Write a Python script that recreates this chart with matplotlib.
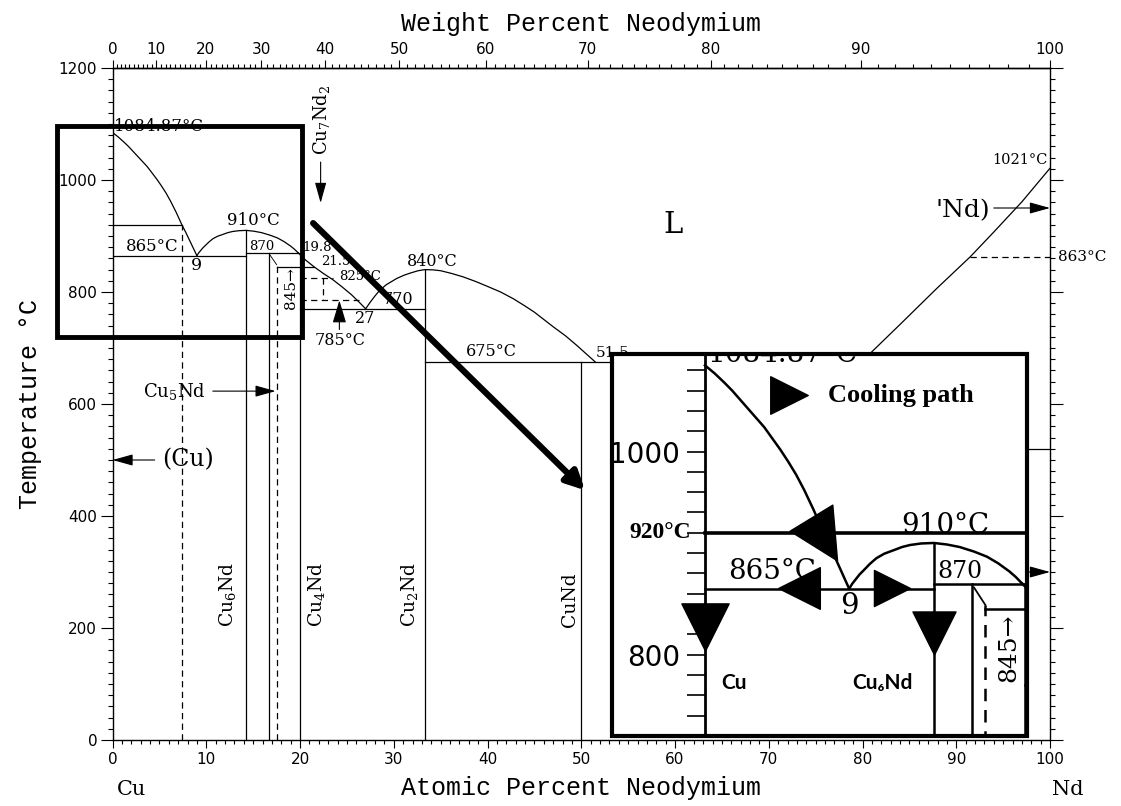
import numpy as np
import matplotlib
matplotlib.use("Agg")
import matplotlib.pyplot as plt
from matplotlib.ticker import MultipleLocator
from matplotlib.patches import Rectangle
from matplotlib.path import Path
from matplotlib.markers import MarkerStyle
from matplotlib.transforms import Affine2D

plt.rcParams['font.family'] = 'DejaVu Serif'
plt.rcParams['mathtext.fontset'] = 'dejavuserif'

M_CU, M_ND = 63.546, 144.24

# liquidus branches (at.% Nd, deg C)
liq_cu_x = [0, 0.6, 1.2, 1.7, 2.2, 2.7, 3.2, 3.7, 4.2, 4.7, 5.2, 5.7, 6.2, 6.8, 7.4, 7.8, 8.2, 8.6, 9]
liq_cu_t = [1084.87, 1077, 1068, 1060, 1051, 1042, 1033, 1024, 1013, 1002, 990, 977, 962, 942,
            920, 907, 893, 879, 865]
liq_cu6_x = [9, 9.2, 9.4, 9.65, 9.9, 10.3, 10.7, 11.2, 11.8, 12.3, 12.8, 13.5, 14.29,
             15.1, 15.9, 16.8, 17.6, 18.3, 19.0, 19.4, 19.8]
liq_cu6_t = [865, 870, 874, 879, 883, 889.5, 895, 899.5, 903, 906, 908, 909.5, 910,
             908.5, 906, 901.5, 896.5, 890, 882, 876.5, 870]
liq_cu4_x = [19.8, 20.6, 21.5, 22.5, 23.5, 24.5, 25.5, 26.3, 27]
liq_cu4_t = [870, 857, 845, 833, 822, 809, 795, 782, 770]
liq_cu2_x = [27, 27.5, 28, 28.5, 29.2, 30.3, 31.1, 31.8, 32.6, 33.33, 34.2, 35, 36.2, 37.4,
             38.7, 40, 41.4, 42.75, 44, 45, 46, 47, 48.3, 49.5, 50.5, 51.5]
liq_cu2_t = [770, 782, 793, 803, 813, 824, 830, 834, 838, 840, 839.5, 838, 833, 827,
             819, 810, 800, 788, 775, 764, 751, 738, 722, 705, 690, 675]
liq_nd_x = [80, 84, 87.9, 91.5, 94, 97, 100]
liq_nd_t = [677, 742, 806, 863, 907, 961, 1021]

# compounds (line compositions and upper temperature)
comp_x = [14.29, 16.67, 20.0, 33.33, 50.0]
comp_top = [910, 870, 870, 840, 675]
comp_names = ["Cu$_6$Nd", None, "Cu$_4$Nd", "Cu$_2$Nd", "CuNd"]

# invariant horizontals
iso_t = [865, 870, 845, 770, 675, 520]
iso_x0 = [0, 14.29, 17.5, 20, 33.33, 70]
iso_x1 = [14.29, 20, 21.5, 33.33, 60, 100]

# dashed (uncertain) boundaries
cu_solvus_x = 7.4
cooling_t = 920
dash_x = 17.5
dash_top = 849
box_t = [825, 785]
box_x1 = [23.5, 26.3]
box_xv = 22.4
nd_trans_t = 863
nd_trans_x0 = 91.5


def at2wt(x):
    x = np.asarray(x, dtype=float)
    with np.errstate(divide='ignore', invalid='ignore'):
        return 100 * x * M_ND / (x * M_ND + (100 - x) * M_CU)


def wt2at(w):
    w = np.asarray(w, dtype=float)
    with np.errstate(divide='ignore', invalid='ignore'):
        return 100 * (w / M_ND) / (w / M_ND + (100 - w) / M_CU)


def draw_boundaries(ax, lw):
    k = dict(color='black', lw=lw, solid_joinstyle='round')
    d = dict(color='black', lw=lw, ls=(0, (5, 3.5)))
    for xs, ts in [(liq_cu_x, liq_cu_t), (liq_cu6_x, liq_cu6_t), (liq_cu4_x, liq_cu4_t),
                   (liq_cu2_x, liq_cu2_t), (liq_nd_x, liq_nd_t)]:
        ax.plot(xs, ts, **k)
    for x, top in zip(comp_x, comp_top):
        ax.plot([x, x], [0, top], **k)
    for t, x0, x1 in zip(iso_t, iso_x0, iso_x1):
        ax.plot([x0, x1], [t, t], **k)
    ax.plot([dash_x, dash_x], [0, dash_top], **d)
    ax.plot([16.8, dash_x], [866, dash_top], color='black', lw=lw * 0.7)
    for t, x1 in zip(box_t, box_x1):
        ax.plot([20, x1], [t, t], **d)
    ax.plot([box_xv, box_xv], box_t, **d)
    ax.plot([nd_trans_x0, 100], [nd_trans_t, nd_trans_t], **d)


def arrow(ax, start, end, lw=0.8, hl=0.9, hw=0.25, ms=14):
    ax.annotate("", xy=end, xytext=start,
                arrowprops=dict(arrowstyle=f"-|>,head_length={hl},head_width={hw}",
                                color='black', lw=lw, shrinkA=0, shrinkB=0,
                                mutation_scale=ms))


W, H = 1121, 806
fig = plt.figure(figsize=(W / 100, H / 100), dpi=100)
ax = fig.add_axes([112.5 / W, (H - 740) / H, 937.5 / W, 672 / H])
ax.set_xlim(0, 100)
ax.set_ylim(0, 1200)
ax.xaxis.set_major_locator(MultipleLocator(10))
ax.xaxis.set_minor_locator(MultipleLocator(1))
ax.yaxis.set_major_locator(MultipleLocator(200))
ax.yaxis.set_minor_locator(MultipleLocator(20))
ax.tick_params(which='both', direction='out', top=False, right=True, labelright=False,
               width=0.8, labelsize=11, labelfontfamily='DejaVu Sans')
ax.tick_params(axis='y', which='major', length=9, pad=2)
ax.tick_params(axis='y', which='minor', length=3.5)
ax.tick_params(axis='x', which='major', length=6, pad=3)
ax.tick_params(axis='x', which='minor', length=3)
for s in ax.spines.values():
    s.set_linewidth(1.0)

sec = ax.secondary_xaxis('top', functions=(at2wt, wt2at))
sec.set_xticks(np.arange(0, 101, 10))
sec.xaxis.set_minor_locator(MultipleLocator(1))
sec.tick_params(which='both', direction='out', width=0.8, labelsize=11,
                labelfontfamily='DejaVu Sans')
sec.tick_params(which='major', length=6, pad=2)
sec.tick_params(which='minor', length=3)
sec.spines['top'].set_linewidth(1.0)
sec.set_xlabel("Weight Percent Neodymium", family='Liberation Mono', fontsize=18, labelpad=8)
ax.set_xlabel("Atomic Percent Neodymium", family='Liberation Mono', fontsize=18, labelpad=6)
ax.set_ylabel("Temperature °C", family='Liberation Mono', fontsize=18, labelpad=12)

draw_boundaries(ax, 0.9)
ax.plot([0, cu_solvus_x], [cooling_t, cooling_t], color='black', lw=0.9)
ax.plot([cu_solvus_x, cu_solvus_x], [0, cooling_t], color='black', lw=0.9, ls=(0, (5, 3.5)))

# labels drawn in both panels: text, x, T, main size, inset size, alignment
shared = [
    ("1084.87°C", 0.15, 1088, 12, 20, dict(ha='left', va='baseline')),
    ("910°C", 15.0, 927, 12, 20, dict(ha='center', va='center')),
    ("865°C", 4.2, 882, 12, 20, dict(ha='center', va='center')),
    ("9", 9.0, 848, 12.5, 21, dict(ha='center', va='center')),
    ("870", 15.9, 882, 9.5, 17, dict(ha='center', va='center')),
    ("845→", 19.0, 807, 11, 18, dict(ha='center', va='center', rotation=90)),
]
for s, x, t, fs, _, kw in shared:
    ax.text(x, t, s, fontsize=fs, **kw)

ax.text(20.3, 879, "19.8", fontsize=9.5, ha='left', va='center')
ax.text(22.3, 855, "21.5", fontsize=9.5, ha='left', va='center')
ax.text(24.2, 827, "825°C", fontsize=9.5, ha='left', va='center')
ax.text(24.3, 714, "785°C", fontsize=11.5, ha='center', va='center')
arrow(ax, (24.2, 733), (24.2, 785), hl=1.0, hw=0.3)
ax.text(26.9, 753, "27", fontsize=11.5, ha='center', va='center')
ax.text(30.5, 786, "770", fontsize=11.5, ha='center', va='center')
ax.text(34.1, 855, "840°C", fontsize=11.5, ha='center', va='center')
ax.text(40.4, 694, "675°C", fontsize=11.5, ha='center', va='center')
ax.text(51.5, 691, "51.5", fontsize=11, ha='left', va='center')
ax.text(59.8, 920, "L", fontsize=21, ha='center', va='center')
ax.text(99.7, 1036, "1021°C", fontsize=10.5, ha='right', va='center')
ax.text(100.9, 863, "863°C", fontsize=11, ha='left', va='center')
ax.text(93.6, 946, "'Nd)", fontsize=18, ha='right', va='center')
arrow(ax, (94.0, 950), (100, 950))
ax.text(8.1, 500, "(Cu)", fontsize=17, ha='center', va='center')
arrow(ax, (4.5, 500), (0, 500))
ax.text(3.3, 623, "Cu$_5$Nd", fontsize=13, ha='left', va='center')
arrow(ax, (10.7, 623), (17.4, 623))
ax.text(22.3, 1107, "Cu$_7$Nd$_2$", fontsize=13, rotation=90, ha='center', va='center')
arrow(ax, (22.2, 1032), (22.2, 959))
arrow(ax, (96.0, 300), (100, 300))
for x, name in zip([12.3, None, 21.8, 31.7, 48.8], comp_names):
    if name:
        ax.text(x, 202, name, fontsize=13.5, rotation=90, ha='center', va='bottom')

xt = ax.get_xaxis_transform()
ax.text(2.0, -0.074, "Cu", transform=xt, fontsize=15, ha='center', va='center')
ax.text(101.9, -0.074, "Nd", transform=xt, fontsize=15, ha='center', va='center')

# highlighted region and pointer to the inset
ax.add_patch(Rectangle((-5.9, 720), 26.1, 376, fill=False, lw=3.5, clip_on=False, zorder=6))
ax.annotate("", xy=(50.4, 446), xytext=(21.4, 923),
            arrowprops=dict(arrowstyle="-|>,head_length=0.5,head_width=0.25", color='black',
                            lw=4.5, shrinkA=0, shrinkB=0, mutation_scale=22))

# inset: magnified Cu-rich corner with cooling path
axi = fig.add_axes([612 / W, (H - 736) / H, 415 / W, 382 / H], zorder=5)
axi.set_xlim(-5.8, 20.1)
axi.set_ylim(720, 1096)
axi.spines['left'].set_position(('data', 0))
axi.spines['left'].set_linewidth(2.0)
for s in ['top', 'right', 'bottom']:
    axi.spines[s].set_visible(False)
axi.set_xticks([])
axi.yaxis.set_major_locator(MultipleLocator(200))
axi.yaxis.set_minor_locator(MultipleLocator(20))
axi.tick_params(axis='y', which='both', direction='out', length=13, width=1.2,
                labelsize=20, pad=5, labelfontfamily='DejaVu Sans')
axi.add_patch(Rectangle((0, 0), 1, 1, transform=axi.transAxes, fill=False, lw=3,
                        clip_on=False, zorder=10))

draw_boundaries(axi, 1.8)
axi.plot([0, 20.1], [cooling_t, cooling_t], color='black', lw=2.6)
for s, x, t, _, fs, kw in shared:
    axi.text(x, t, s, fontsize=fs, clip_on=True, **kw)

axi.text(-0.9, 920, "920°C", family='Liberation Serif', weight='bold', fontsize=17,
         ha='right', va='center')
axi.text(7.7, 1055, "Cooling path", family='Liberation Serif', weight='bold', fontsize=19,
         ha='left', va='center')
axi.text(1.8, 772, "Cu", family=['Lato', 'DejaVu Sans'], weight='bold', fontsize=15,
         ha='center', va='center')
axi.text(11.05, 772, "Cu₆Nd", family=['Lato', 'DejaVu Sans'], weight='bold', fontsize=15,
         ha='center', va='center')

tri = Path([(1, 0), (-1, -1), (-1, 1), (1, 0)],
           [Path.MOVETO, Path.LINETO, Path.LINETO, Path.CLOSEPOLY])
cool_x = [7.42, 5.89, 11.66, 0.0, 14.29, 5.25]
cool_t = [914, 866, 865.4, 826.8, 821, 1055.6]
cool_dir = [-58.6, 180, 0, -90, -90, 0]
cool_ms = [36, 30, 26, 34, 31, 27]
for x, t, a, ms in zip(cool_x, cool_t, cool_dir, cool_ms):
    m = MarkerStyle(tri, transform=Affine2D().rotate_deg(a))
    axi.plot([x], [t], marker=m, ms=ms, color='black', ls='none', zorder=8, clip_on=False)

fig.savefig("out.png", dpi=100)
